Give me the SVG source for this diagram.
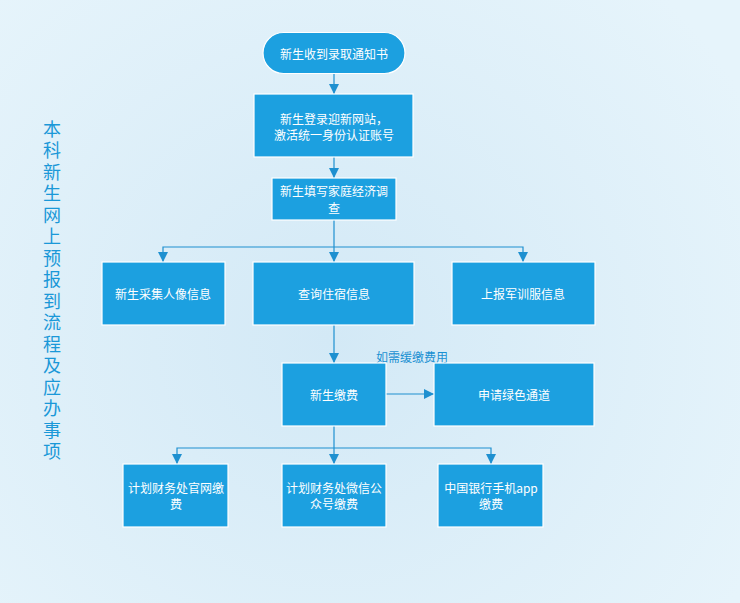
<svg xmlns="http://www.w3.org/2000/svg" width="740" height="603" viewBox="0 0 740 603">
<defs>
<radialGradient id="bg" cx="330" cy="340" r="480" gradientUnits="userSpaceOnUse">
<stop offset="0" stop-color="#d3e9f6"/>
<stop offset="1" stop-color="#e6f4fb"/>
</radialGradient>
<marker id="ah" markerUnits="userSpaceOnUse" markerWidth="10" markerHeight="10" viewBox="0 0 10 10" refX="10" refY="5" orient="auto">
<path d="M0,0 L10,5 L0,10 Z" fill="#1e90d0"/>
</marker>
</defs>
<style>
.box{fill:#1ca0e0;stroke:#ffffff;stroke-width:1.2}
.t{font-family:"Noto Sans CJK SC","Liberation Sans",sans-serif;font-size:12px;fill:#ffffff;text-anchor:middle;dominant-baseline:central}
.ln{fill:none;stroke:#1e90d0;stroke-width:1.2}
.title{font-family:"Noto Sans CJK SC",sans-serif;font-size:18px;fill:#1a98d8;writing-mode:vertical-rl;letter-spacing:3.5px}
.lbl{font-family:"Noto Sans CJK SC",sans-serif;font-size:12px;fill:#1a90d2;text-anchor:middle;dominant-baseline:central}
</style>
<rect width="740" height="603" fill="url(#bg)"/>
<g id="title">
<text class="title" x="52" y="120">本科新生网上预报到流程及应办事项</text>
</g>
<g id="connectors">
<path class="ln" d="M334,73 V94" marker-end="url(#ah)"/>
<path class="ln" d="M334,157 V178" marker-end="url(#ah)"/>
<path class="ln" d="M334,220 V262" marker-end="url(#ah)"/>
<path class="ln" d="M334,247 H163 V262" marker-end="url(#ah)"/>
<path class="ln" d="M334,247 H523 V262" marker-end="url(#ah)"/>
<path class="ln" d="M334,325 V363" marker-end="url(#ah)"/>
<path class="ln" d="M386,394 H434" marker-end="url(#ah)"/>
<path class="ln" d="M334,426 V464" marker-end="url(#ah)"/>
<path class="ln" d="M334,448 H177 V464" marker-end="url(#ah)"/>
<path class="ln" d="M334,448 H491 V464" marker-end="url(#ah)"/>
<text class="lbl" x="412" y="356">如需缓缴费用</text>
</g>
<g id="n1"><rect class="box" x="263" y="32.5" width="142" height="41" rx="20.5"/><text class="t" x="334" y="53">新生收到录取通知书</text></g>
<g id="n2"><rect class="box" x="254" y="94" width="159" height="63"/><text class="t" x="334" y="118">新生登录迎新网站，<tspan x="334" dy="16">激活统一身份认证账号</tspan></text></g>
<g id="n3"><rect class="box" x="272" y="178" width="124" height="42"/><text class="t" x="334" y="190.5">新生填写家庭经济调<tspan x="334" dy="16">查</tspan></text></g>
<g id="n4"><rect class="box" x="102" y="262" width="123" height="63"/><text class="t" x="163" y="293">新生采集人像信息</text></g>
<g id="n5"><rect class="box" x="253" y="262" width="161" height="63"/><text class="t" x="334" y="293">查询住宿信息</text></g>
<g id="n6"><rect class="box" x="452" y="262" width="143" height="63"/><text class="t" x="523" y="293">上报军训服信息</text></g>
<g id="n7"><rect class="box" x="282" y="363" width="104" height="63"/><text class="t" x="334" y="394">新生缴费</text></g>
<g id="n8"><rect class="box" x="434" y="363" width="160" height="63"/><text class="t" x="514" y="394">申请绿色通道</text></g>
<g id="n9"><rect class="box" x="123" y="464" width="105" height="63"/><text class="t" x="176" y="487">计划财务处官网缴<tspan x="176" dy="16">费</tspan></text></g>
<g id="n10"><rect class="box" x="282" y="464" width="104" height="63"/><text class="t" x="334" y="487">计划财务处微信公<tspan x="334" dy="16">众号缴费</tspan></text></g>
<g id="n11"><rect class="box" x="438" y="464" width="105" height="63"/><text class="t" x="491" y="487">中国银行手机app<tspan x="491" dy="16">缴费</tspan></text></g>
</svg>
